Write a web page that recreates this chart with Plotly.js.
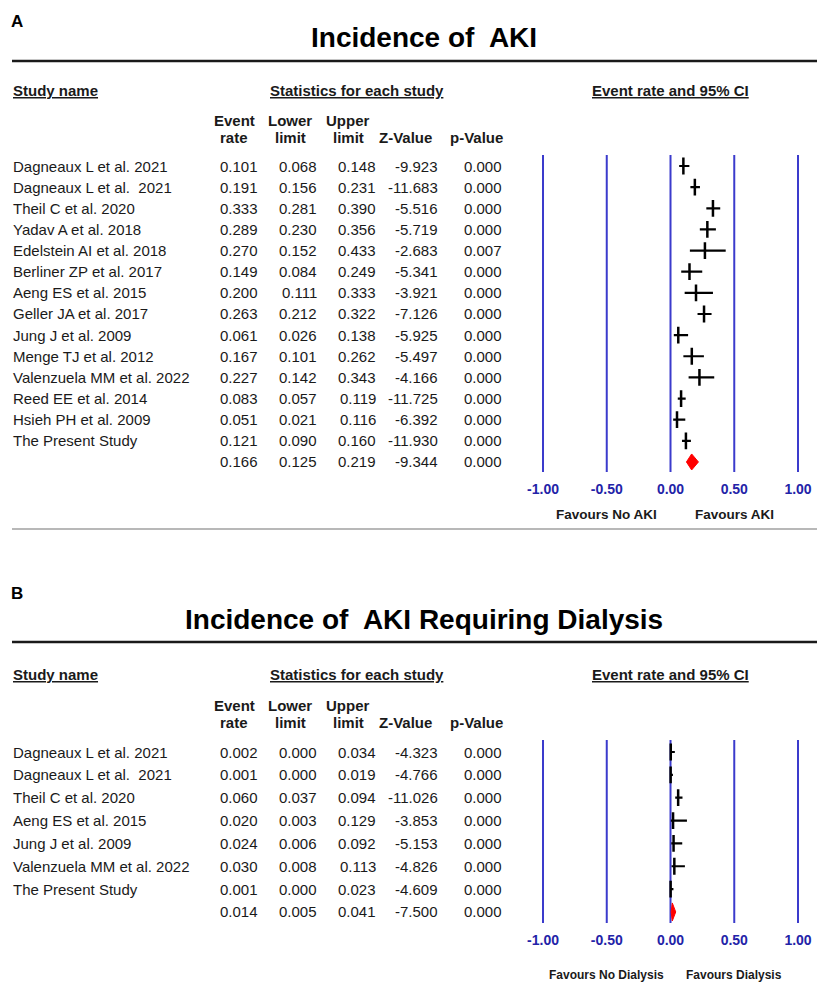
<!DOCTYPE html>
<html>
<head>
<meta charset="utf-8">
<script src="https://cdn.plot.ly/plotly-3.0.1.min.js"></script>
<style>html,body{margin:0;padding:0;background:#fff;}#chart{width:817px;height:988px;}</style>
</head>
<body>
<div id="chart"></div>
<script>
// ---------------- DATA ----------------
const studiesA = ['Dagneaux L et al. 2021','Dagneaux L et al.  2021','Theil C et al. 2020','Yadav A et al. 2018','Edelstein AI et al. 2018','Berliner ZP et al. 2017','Aeng ES et al. 2015','Geller JA et al. 2017','Jung J et al. 2009','Menge TJ et al. 2012','Valenzuela MM et al. 2022','Reed EE et al. 2014','Hsieh PH et al. 2009','The Present Study'];
const rateA  = [0.101,0.191,0.333,0.289,0.270,0.149,0.200,0.263,0.061,0.167,0.227,0.083,0.051,0.121];
const lowerA = [0.068,0.156,0.281,0.230,0.152,0.084,0.111,0.212,0.026,0.101,0.142,0.057,0.021,0.090];
const upperA = [0.148,0.231,0.390,0.356,0.433,0.249,0.333,0.322,0.138,0.262,0.343,0.119,0.116,0.160];
const zA     = [-9.923,-11.683,-5.516,-5.719,-2.683,-5.341,-3.921,-7.126,-5.925,-5.497,-4.166,-11.725,-6.392,-11.930];
const pA     = [0.000,0.000,0.000,0.000,0.007,0.000,0.000,0.000,0.000,0.000,0.000,0.000,0.000,0.000];
const pooledA = {rate:0.166, lower:0.125, upper:0.219, z:-9.344, p:0.000};

const studiesB = ['Dagneaux L et al. 2021','Dagneaux L et al.  2021','Theil C et al. 2020','Aeng ES et al. 2015','Jung J et al. 2009','Valenzuela MM et al. 2022','The Present Study'];
const rateB  = [0.002,0.001,0.060,0.020,0.024,0.030,0.001];
const lowerB = [0.000,0.000,0.037,0.003,0.006,0.008,0.000];
const upperB = [0.034,0.019,0.094,0.129,0.092,0.113,0.023];
const zB     = [-4.323,-4.766,-11.026,-3.853,-5.153,-4.826,-4.609];
const pB     = [0.000,0.000,0.000,0.000,0.000,0.000,0.000];
const pooledB = {rate:0.014, lower:0.005, upper:0.041, z:-7.500, p:0.000};

const axisTicks = [-1, -0.5, 0, 0.5, 1];
const axisTickText = ['-1.00','-0.50','0.00','0.50','1.00'];
const colHeaders = [['Event','rate'],['Lower','limit'],['Upper','limit'],['','Z-Value'],['','p-Value']];

// ---------------- STYLE / LAYOUT ----------------
const W = 817, H = 988;
const FONT = 'Liberation Sans, Arial, Helvetica, sans-serif';
const px = v => v / W;
const py = v => 1 - v / H;
const keepSpaces = s => s.replace(/  /g, ' \u00A0');

const panels = [
  {letter:'A', title:'Incidence of\u00A0 AKI', favL:'Favours No AKI', favR:'Favours AKI', favSize:13.5,
   studies:studiesA, rate:rateA, lower:lowerA, upper:upperA, z:zA, p:pA, pooled:pooledA,
   letterY:21, titleY:37, lineY:61, hdrY:91, col1Y:120, col2Y:137, row0:166, rowStep:21.14,
   plotTop:155, plotBot:472, favY:514, bottomLine:529, diamondHalf:8, xa:'x', ya:'y'},
  {letter:'B', title:'Incidence of\u00A0 AKI Requiring Dialysis', favL:'Favours No Dialysis', favR:'Favours Dialysis', favSize:12,
   studies:studiesB, rate:rateB, lower:lowerB, upper:upperB, z:zB, p:pB, pooled:pooledB,
   letterY:593, titleY:619, lineY:642, hdrY:674, col1Y:705, col2Y:722, row0:752, rowStep:22.85,
   plotTop:740, plotBot:923, favY:975, bottomLine:null, diamondHalf:9, xa:'x2', ya:'y2'}
];

const colRight = [260, 319, 378, 440, 504];   // numeric column right edges (px)
const colHdrCenter = [234, 290, 348, 405, 476];
const plotLeft = 543, plotRight = 798;           // pixel positions of -1 and 1
const pad = 0.03;                                 // extra axis range so edge lines are not clipped
const unitPx = (plotRight - plotLeft) / 2;

const traces = [], annotations = [], shapes = [];
const layout = {
  width: W, height: H, margin:{l:0,r:0,t:0,b:0},
  paper_bgcolor:'#fff', plot_bgcolor:'rgba(0,0,0,0)', showlegend:false,
  font:{family:FONT, color:'#1a1a1a'}
};

panels.forEach((P, k) => {
  const n = P.studies.length;
  const yTopVal = (P.plotTop - P.row0) / P.rowStep;
  const yBotVal = (P.plotBot - P.row0) / P.rowStep;
  const xKey = k === 0 ? 'xaxis' : 'xaxis2';
  const yKey = k === 0 ? 'yaxis' : 'yaxis2';
  layout[xKey] = {
    domain:[px(plotLeft - pad * unitPx), px(plotRight + pad * unitPx)], range:[-1 - pad, 1 + pad], anchor:P.ya,
    showgrid:false, zeroline:false, showline:false, fixedrange:true,
    tickmode:'array', tickvals:axisTicks, ticktext:axisTickText.map(t => '<b>' + t + '</b>'),
    ticks:'outside', ticklen:4, tickcolor:'rgba(0,0,0,0)',
    tickfont:{family:FONT, size:14, color:'#2323a8'}
  };
  layout[yKey] = {
    domain:[py(P.plotBot), py(P.plotTop)], range:[yBotVal, yTopVal], anchor:P.xa,
    showgrid:false, zeroline:false, showline:false, showticklabels:false, fixedrange:true
  };

  // vertical reference lines
  axisTicks.forEach(v => {
    shapes.push({type:'line', xref:P.xa, yref:P.ya + ' domain', x0:v, x1:v, y0:0, y1:1,
      line:{color:'#3b3bcc', width:2}, layer:'below'});
  });

  // horizontal separator lines
  shapes.push({type:'line', xref:'paper', yref:'paper', x0:px(12), x1:1, y0:py(P.lineY), y1:py(P.lineY),
    line:{color:'#1a1a1a', width:2.5}});
  if (P.bottomLine) shapes.push({type:'line', xref:'paper', yref:'paper', x0:px(12), x1:1,
    y0:py(P.bottomLine), y1:py(P.bottomLine), line:{color:'#a0a0a0', width:1.5}});

  // panel letter and title
  annotations.push({xref:'paper', yref:'paper', x:px(9), y:py(P.letterY), xanchor:'left', yanchor:'middle',
    text:'<b>' + P.letter + '</b>', showarrow:false, font:{family:FONT, size:17, color:'#000'}});
  annotations.push({xref:'paper', yref:'paper', x:px(423.5), y:py(P.titleY), xanchor:'center', yanchor:'middle',
    text:'<b>' + P.title + '</b>', showarrow:false, font:{family:FONT, size:28, color:'#000'}});

  // section headers (underlined)
  const hdr = (txt, x, anchor) => annotations.push({xref:'paper', yref:'paper', x:px(x), y:py(P.hdrY),
    xanchor:anchor, yanchor:'middle', text:'<b>' + txt + '</b>', showarrow:false,
    font:{family:FONT, size:15, color:'#1a1a1a', lineposition:'under'}});
  hdr('Study name', 11, 'left');
  hdr('Statistics for each study', 356.5, 'center');
  hdr('Event rate and 95% CI', 670.5, 'center');

  // column headers
  colHeaders.forEach((h, i) => {
    [[h[0], P.col1Y], [h[1], P.col2Y]].forEach(([t, yy]) => {
      if (!t) return;
      annotations.push({xref:'paper', yref:'paper', x:px(colHdrCenter[i]), y:py(yy), xanchor:'center', yanchor:'middle',
        text:'<b>' + t + '</b>', showarrow:false, font:{family:FONT, size:15, color:'#1a1a1a'}});
    });
  });

  // table rows
  const rowsY = P.studies.map((_, i) => i);
  const cell = (txt, xpx, row, anchor) => annotations.push({xref:'paper', yref:P.ya, x:px(xpx), y:row,
    xanchor:anchor, yanchor:'middle', text:txt, showarrow:false, font:{family:FONT, size:15, color:'#1a1a1a'}});
  P.studies.forEach((s, i) => {
    cell(keepSpaces(s), 11, i, 'left');
    [P.rate[i], P.lower[i], P.upper[i], P.z[i], P.p[i]].forEach((v, j) => cell(v.toFixed(3), colRight[j], i, 'right'));
  });
  const pr = n;
  [P.pooled.rate, P.pooled.lower, P.pooled.upper, P.pooled.z, P.pooled.p].forEach((v, j) => cell(v.toFixed(3), colRight[j], pr, 'right'));

  // favours labels
  annotations.push({xref:P.xa, yref:'paper', x:-0.5, y:py(P.favY), xanchor:'center', yanchor:'middle',
    text:'<b>' + P.favL + '</b>', showarrow:false, font:{family:FONT, size:P.favSize, color:'#1a1a1a'}});
  annotations.push({xref:P.xa, yref:'paper', x:0.5, y:py(P.favY), xanchor:'center', yanchor:'middle',
    text:'<b>' + P.favR + '</b>', showarrow:false, font:{family:FONT, size:P.favSize, color:'#1a1a1a'}});

  // study point estimates with CIs
  traces.push({
    type:'scatter', mode:'markers', xaxis:P.xa, yaxis:P.ya,
    x:P.rate, y:rowsY,
    marker:{symbol:'line-ns-open', size:12, color:'#000', line:{width:2.5, color:'#000'}},
    error_x:{type:'data', symmetric:false,
      array:P.upper.map((u, i) => u - P.rate[i]),
      arrayminus:P.lower.map((l, i) => P.rate[i] - l),
      width:0, thickness:2.2, color:'#000'},
    hoverinfo:'skip'
  });

  // pooled diamond
  const h = P.diamondHalf / P.rowStep;
  traces.push({
    type:'scatter', mode:'lines', xaxis:P.xa, yaxis:P.ya, fill:'toself',
    x:[P.pooled.lower, P.pooled.rate, P.pooled.upper, P.pooled.rate, P.pooled.lower],
    y:[pr, pr - h, pr, pr + h, pr],
    fillcolor:'#ff0000', line:{color:'#ff0000', width:1}, hoverinfo:'skip'
  });
});

layout.annotations = annotations;
layout.shapes = shapes;

Plotly.newPlot('chart', traces, layout, {displayModeBar:false, staticPlot:true});
</script>
</body>
</html>
